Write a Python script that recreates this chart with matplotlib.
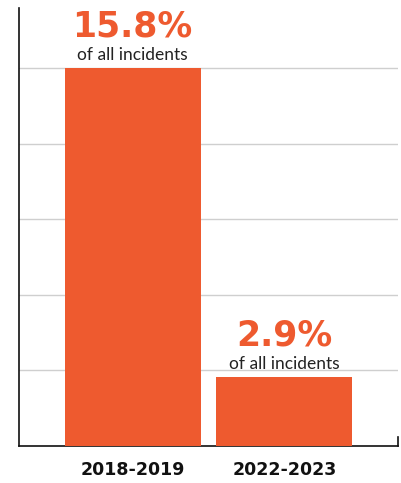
import matplotlib
matplotlib.use("Agg")
import matplotlib.pyplot as plt
import numpy as np

categories = ["2018-2019", "2022-2023"]
values = [15.8, 2.9]
value_labels = ["15.8%", "2.9%"]
sub_label = "of all incidents"

ORANGE = "#EE5A2F"
grid_step = 3.16

fig = plt.figure(figsize=(4.01, 4.83), dpi=100)
W, H = 401, 483
ax = fig.add_axes([19 / W, (H - 446) / H, (398 - 19) / W, (446 - 8) / H])

x = np.arange(len(categories))
ax.bar(x, values, width=0.895, color=ORANGE, zorder=3)

ax.set_xlim(-0.75, 1.75)
ax.set_ylim(0, grid_step * 438 / 75.6)
ax.set_yticks(grid_step * np.arange(1, 6))
ax.yaxis.grid(True, color="#cfcfcf", linewidth=1.0, zorder=0)
ax.tick_params(axis="y", length=0, labelleft=False)
ax.set_xticks(x)
ax.set_xticklabels(categories, fontsize=12.5, fontweight="bold", color="#111111",
                   family="DejaVu Sans")
ax.tick_params(axis="x", length=0, pad=11)

for s in ["top", "right"]:
    ax.spines[s].set_visible(False)
for s in ["left", "bottom"]:
    ax.spines[s].set_color("#111111")
    ax.spines[s].set_linewidth(1.2)
# small end tick at right of baseline
ax.axvline(1.75, ymin=0, ymax=9 / 438, color="#111111", linewidth=1.2, clip_on=False)

for xi, v, lab in zip(x, values, value_labels):
    ax.annotate(sub_label, xy=(xi, v), xytext=(0, 5.5), textcoords="offset points",
                ha="center", va="baseline", fontsize=12.5, color="#222222",
                family="Lato")
    ax.annotate(lab, xy=(xi, v), xytext=(0, 22.5), textcoords="offset points",
                ha="center", va="baseline", fontsize=25, fontweight="bold",
                color=ORANGE, family="DejaVu Sans")

fig.savefig("out.png", dpi=100)
